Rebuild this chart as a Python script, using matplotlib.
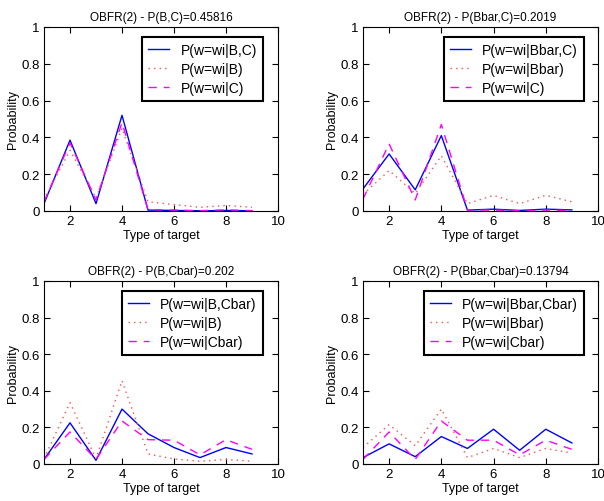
import matplotlib
matplotlib.use("Agg")
import matplotlib.pyplot as plt
from matplotlib.ticker import FuncFormatter

plt.rcParams['font.family'] = ['Liberation Sans', 'DejaVu Sans']

targets = [1, 2, 3, 4, 5, 6, 7, 8, 9]

titles = ["OBFR(2) - P(B,C)=0.45816", "OBFR(2) - P(Bbar,C)=0.2019",
          "OBFR(2) - P(B,Cbar)=0.202", "OBFR(2) - P(Bbar,Cbar)=0.13794"]

labels = [["P(w=wi|B,C)", "P(w=wi|B)", "P(w=wi|C)"],
          ["P(w=wi|Bbar,C)", "P(w=wi|Bbar)", "P(w=wi|C)"],
          ["P(w=wi|B,Cbar)", "P(w=wi|B)", "P(w=wi|Cbar)"],
          ["P(w=wi|Bbar,Cbar)", "P(w=wi|Bbar)", "P(w=wi|Cbar)"]]

# joint (blue), first marginal (red dotted), second marginal (magenta dashed)
joint_bc = [0.04, 0.385, 0.04, 0.52, 0.005, 0.003, 0.001, 0.003, 0.001]
marg_b = [0.06, 0.33, 0.07, 0.45, 0.05, 0.035, 0.02, 0.03, 0.02]
marg_c = [0.05, 0.37, 0.06, 0.48, 0.007, 0.005, 0.002, 0.006, 0.002]

joint_bbar_c = [0.12, 0.31, 0.115, 0.41, 0.005, 0.01, 0.003, 0.01, 0.006]
marg_bbar = [0.09, 0.22, 0.095, 0.30, 0.04, 0.085, 0.04, 0.085, 0.05]
marg_c2 = [0.065, 0.365, 0.06, 0.47, 0.005, 0.005, 0.002, 0.005, 0.003]

joint_b_cbar = [0.025, 0.225, 0.02, 0.30, 0.165, 0.09, 0.035, 0.09, 0.055]
marg_b2 = [0.03, 0.335, 0.03, 0.455, 0.055, 0.027, 0.015, 0.025, 0.015]
marg_cbar = [0.025, 0.175, 0.025, 0.235, 0.133, 0.13, 0.05, 0.133, 0.08]

joint_bbar_cbar = [0.035, 0.11, 0.04, 0.15, 0.085, 0.19, 0.075, 0.19, 0.115]
marg_bbar2 = [0.09, 0.215, 0.10, 0.30, 0.035, 0.085, 0.035, 0.085, 0.06]
marg_cbar2 = [0.025, 0.175, 0.025, 0.235, 0.13, 0.13, 0.05, 0.13, 0.08]

series = [(joint_bc, marg_b, marg_c),
          (joint_bbar_c, marg_bbar, marg_c2),
          (joint_b_cbar, marg_b2, marg_cbar),
          (joint_bbar_cbar, marg_bbar2, marg_cbar2)]

W, H = 604, 502
fig = plt.figure(figsize=(W / 100, H / 100), dpi=100)

# axes boxes in pixels: left, top, right, bottom
boxes = [(44, 28, 278, 212), (363, 28, 598, 212),
         (44, 282, 278, 465), (363, 282, 598, 465)]
# legend right edge x in pixels (top at axes top + 10)
leg_right = [263, 584, 263, 584]

fmt = FuncFormatter(lambda v, p: ("%g" % round(v, 1)))

for i, (l, t, r, b) in enumerate(boxes):
    ax = fig.add_axes([l / W, (H - b) / H, (r - l) / W, (b - t) / H])
    joint, m1, m2 = series[i]
    ax.plot(targets, joint, color="#0000ff", lw=1.0, label=labels[i][0])
    ax.plot(targets, m1, color="#ff5050", lw=1.0, ls=(0, (1, 3)), label=labels[i][1])
    ax.plot(targets, m2, color="#ff00ff", lw=1.0, ls=(0, (6, 5)), label=labels[i][2])
    ax.set_xlim(1, 10)
    ax.set_ylim(0, 1)
    ax.set_xticks([2, 4, 6, 8, 10])
    ax.set_yticks([0, 0.2, 0.4, 0.6, 0.8, 1])
    ax.yaxis.set_major_formatter(fmt)
    ax.tick_params(direction="in", top=True, right=True, labelsize=9.5, length=4, pad=3)
    ax.set_title(titles[i], fontsize=8.5, pad=5)
    ax.set_xlabel("Type of target", fontsize=9, labelpad=1)
    ax.set_ylabel("Probability", fontsize=9, labelpad=2)
    lx = (leg_right[i] - l) / (r - l)
    ly = 1 - 10 / (b - t)
    leg = ax.legend(loc="upper right", bbox_to_anchor=(lx, ly), fontsize=10,
                    frameon=True, fancybox=False, framealpha=1, edgecolor="black",
                    handlelength=1.5, handletextpad=0.8, borderpad=0.45,
                    labelspacing=0.35, borderaxespad=0)
    leg.get_frame().set_linewidth(1.5)

fig.savefig("out.png", dpi=100)
